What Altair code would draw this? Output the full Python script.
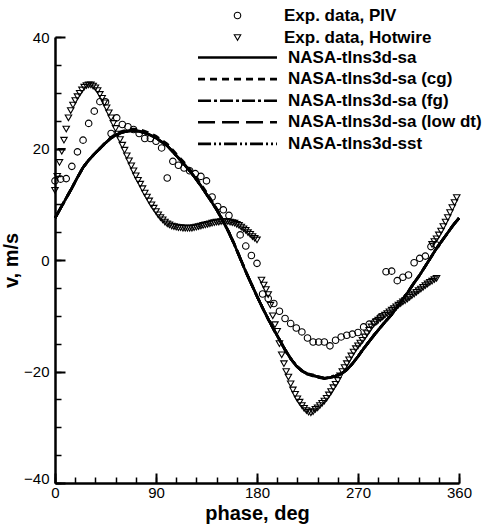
import altair as alt
import pandas as pd

# ---------------- data ----------------
piv_phase = [0, 5, 10, 15, 20, 25, 30, 35, 40, 45, 50, 55, 60, 65, 70, 75, 80, 85, 90, 95,
             100, 105, 110, 115, 120, 125, 130, 135, 140, 145, 150, 155,
             165, 170, 175, 180, 185, 190, 195, 200, 205, 210, 215, 220, 225, 230,
             235, 240, 245, 250, 255, 260, 265, 270, 275, 280, 285, 290, 295, 300,
             305, 310, 315, 320, 325, 330, 335, 340]
piv_v = [14.2, 14.5, 14.6, 16.8, 19.4, 21.5, 24.5, 26.7, 28.4, 28.4,
         22.7, 25.5, 24.3, 23.9, 23.4, 22.7, 21.8, 21.8, 21.3, 20.1,
         14.7, 17.7, 17.0, 16.5, 16.0, 15.5, 15.0, 14.2, 11.3, 9.6,
         9.0, 8.0,
         4.5, 2.5, 0.8, -0.6, -6.1, -6.9, -7.8, -9.2, -10.5, -11.4, -12.2, -12.9, -14.0, -14.7,
         -14.7, -14.7, -15.4, -14.4, -13.8, -13.5, -13.3, -13.0, -12.0, -11.5,
         -11.1, -10.2, -2.1, -2.0, -3.7, -3.1, -2.7, -0.5, 0.3, 0.7,
         2.4, 2.7]

hw1_phase = list(range(0, 181, 2))
hw1_v = [12.5, 15.0, 17.5, 19.5, 21.5, 23.5, 25.5, 26.8, 27.8, 28.6,
         29.3, 29.9, 30.5, 31.0, 31.3, 31.4, 31.4, 31.2, 30.9, 30.4,
         29.7, 29.0, 28.2, 27.3, 26.4, 25.5, 24.5, 23.6, 22.6, 21.6,
         20.6, 19.7, 18.7, 17.8, 16.9, 16.0, 15.1, 14.3, 13.6, 12.8,
         12.0, 11.3, 10.6, 9.9, 9.3, 8.7, 8.1, 7.6, 7.2, 6.8,
         6.5, 6.3, 6.1, 6.0, 5.9, 5.8, 5.8, 5.7, 5.7, 5.7,
         5.7, 5.7, 5.8, 5.9, 6.0, 6.1, 6.2, 6.3, 6.4, 6.5,
         6.6, 6.7, 6.8, 6.8, 6.9, 6.9, 6.9, 6.9, 6.8, 6.7,
         6.6, 6.4, 6.2, 5.9, 5.6, 5.3, 4.9, 4.6, 4.2, 3.9,
         3.6]
hw2_phase = list(range(184, 341, 2))
hw2_v = [-3.6, -4.5, -5.3, -6.2, -8.1, -10.0, -11.6, -12.8, -15.0, -17.0,
         -18.6, -20.0, -21.0, -22.2, -23.3, -24.1, -24.9, -25.5, -26.1, -26.6,
         -27.0, -27.3, -27.4, -27.2, -26.8, -26.5, -26.1, -25.7, -25.3, -24.8,
         -24.2, -23.6, -22.9, -22.3, -21.6, -20.8, -20.0, -19.3, -18.6, -17.9,
         -17.2, -16.5, -15.9, -15.4, -14.9, -14.4, -13.8, -13.2, -12.6, -12.0,
         -11.5, -11.1, -10.8, -10.5, -10.2, -9.9, -9.6, -9.3, -9.0, -8.7,
         -8.4, -8.1, -7.8, -7.5, -7.3, -7.0, -6.7, -6.4, -6.1, -5.8,
         -5.5, -5.2, -4.9, -4.6, -4.3, -4.0, -3.8, -3.5, -3.3]
hw3_phase = list(range(336, 359, 2))
hw3_v = [2.8, 3.3, 3.8, 4.5, 5.2, 6.0, 6.8, 7.6, 8.5, 9.4, 10.3, 11.2]

cfd_phase = list(range(0, 361, 5))
sa = [7.5, 9.3, 11.1, 12.9, 14.8, 16.6, 17.9, 19.0, 20.0, 21.0,
      21.9, 22.5, 22.9, 23.1, 23.2, 23.1, 22.8, 22.4, 21.9, 21.2,
      20.5, 19.4, 18.3, 17.2, 16.0, 14.7, 13.3, 11.8, 10.3, 8.7,
      6.9, 4.9, 2.7, 0.3, -2.1, -4.3, -6.5, -8.6, -10.6, -12.5,
      -14.3, -16.1, -17.7, -19.0, -19.9, -20.4, -20.7, -21.0, -21.2, -21.1,
      -20.8, -20.4, -19.7, -18.6, -17.3, -15.9, -14.6, -13.3, -12.1, -10.9,
      -9.8, -8.4, -7.0, -5.6, -4.1, -2.7, -1.1, 0.5, 2.1, 3.5,
      4.9, 6.3, 7.5]
sa_cg = [7.5, 9.3, 11.1, 12.9, 14.8, 16.6, 17.9, 19.0, 20.0, 21.1,
         22.0, 22.7, 23.1, 23.4, 23.5, 23.4, 23.1, 22.7, 22.2, 21.5,
         20.8, 19.7, 18.6, 17.5, 16.3, 15.0, 13.6, 12.1, 10.5, 8.9,
         7.0, 5.0, 2.8, 0.4, -2.0, -4.3, -6.5, -8.6, -10.6, -12.5,
         -14.3, -16.1, -17.7, -19.0, -19.9, -20.5, -20.8, -21.0, -21.2, -21.1,
         -20.8, -20.4, -19.7, -18.6, -17.3, -15.9, -14.6, -13.3, -12.1, -10.9,
         -9.8, -8.4, -7.0, -5.6, -4.1, -2.7, -1.1, 0.5, 2.1, 3.5,
         4.9, 6.3, 7.5]
sa_fg = [7.5, 9.3, 11.1, 12.9, 14.8, 16.6, 17.9, 19.0, 20.0, 21.0,
         21.9, 22.5, 22.9, 23.1, 23.2, 23.1, 22.8, 22.4, 21.9, 21.2,
         20.5, 19.4, 18.3, 17.2, 16.0, 14.7, 13.3, 11.8, 10.3, 8.7,
         6.9, 4.9, 2.7, 0.3, -2.1, -4.3, -6.5, -8.6, -10.6, -12.5,
         -14.3, -16.1, -17.6, -18.9, -19.9, -20.5, -20.6, -21.1, -21.3, -21.0,
         -20.7, -20.4, -19.7, -18.6, -17.3, -15.9, -14.6, -13.3, -12.1, -10.9,
         -9.8, -8.4, -7.0, -5.6, -4.1, -2.7, -1.1, 0.5, 2.1, 3.5,
         4.9, 6.3, 7.5]
sa_lowdt = [7.5, 9.3, 11.1, 12.9, 14.8, 16.6, 17.9, 19.0, 20.0, 21.0,
            21.9, 22.5, 22.9, 23.1, 23.2, 23.1, 22.8, 22.4, 21.9, 21.2,
            20.5, 19.4, 18.3, 17.2, 16.0, 14.7, 13.3, 11.8, 10.3, 8.7,
            6.9, 4.9, 2.7, 0.3, -2.1, -4.3, -6.5, -8.6, -10.6, -12.5,
            -14.3, -16.1, -17.7, -19.0, -19.8, -20.3, -20.8, -20.9, -21.2, -21.2,
            -20.8, -20.4, -19.7, -18.6, -17.3, -15.9, -14.6, -13.3, -12.1, -10.9,
            -9.8, -8.4, -7.0, -5.6, -4.1, -2.7, -1.1, 0.5, 2.1, 3.5,
            4.9, 6.3, 7.5]
sst = [7.5, 9.3, 11.1, 12.9, 14.8, 16.6, 17.9, 19.0, 20.0, 21.0,
       21.9, 22.5, 22.9, 23.1, 23.2, 23.1, 22.8, 22.4, 21.9, 21.2,
       20.5, 19.4, 18.3, 17.2, 16.0, 14.7, 13.3, 11.8, 10.3, 8.7,
       6.9, 4.9, 2.7, 0.3, -2.1, -4.3, -6.5, -8.6, -10.6, -12.5,
       -14.3, -16.1, -17.7, -19.0, -19.9, -20.4, -20.7, -21.0, -21.2, -21.1,
       -20.8, -20.4, -19.7, -18.6, -17.3, -15.9, -14.6, -13.3, -12.1, -10.9,
       -9.8, -8.4, -7.0, -5.6, -4.1, -2.7, -1.1, 0.5, 2.1, 3.5,
       4.9, 6.3, 7.5]

point_names = ["Exp. data, PIV", "Exp. data, Hotwire"]
line_names = ["NASA-tlns3d-sa", "NASA-tlns3d-sa (cg)", "NASA-tlns3d-sa (fg)",
              "NASA-tlns3d-sa (low dt)", "NASA-tlns3d-sst"]
line_dashes = [[1, 0], [7, 5], [13, 3, 3, 3], [17, 7], [13, 3, 2, 3, 2, 3]]

x_major = [0, 90, 180, 270, 360]
x_minor = list(range(0, 361, 18))
y_major = [-40, -20, 0, 20, 40]
y_minor = list(range(-40, 41, 5))

# ---------------- tables ----------------
pts = []
for p, v in zip(piv_phase, piv_v):
    pts.append({"phase": p, "v": v, "series": point_names[0]})
for ph, vv in [(hw1_phase, hw1_v), (hw2_phase, hw2_v), (hw3_phase, hw3_v)]:
    for p, v in zip(ph, vv):
        pts.append({"phase": p, "v": v, "series": point_names[1]})
pts_df = pd.DataFrame(pts)

lines = []
for name, vals in zip(line_names, [sa, sa_cg, sa_fg, sa_lowdt, sst]):
    for p, v in zip(cfd_phase, vals):
        lines.append({"phase": p, "v": v, "series": name})
lines_df = pd.DataFrame(lines)

FONT = "Liberation Sans"
xscale = alt.Scale(domain=[0, 360], nice=False, zero=False)
yscale = alt.Scale(domain=[-40, 40], nice=False, zero=False)

major_x_axis = alt.Axis(orient="bottom", values=x_major, title="phase, deg", tickSize={"expr": "-10"},
                        tickWidth=2, tickColor="black", domainColor="black", domainWidth=2.5,
                        labelPadding=12, labelFont=FONT, labelFontSize=15, labelColor="black",
                        titleFont=FONT, titleFontSize=20, titleFontWeight="bold", titleColor="black",
                        titlePadding=3, grid=False, labelFlush=False, labelOverlap=False)
major_y_axis = alt.Axis(orient="left", values=y_major, title="v, m/s", tickSize={"expr": "-10"},
                        tickWidth=2, tickColor="black", domainColor="black", domainWidth=2.5,
                        labelPadding=16, labelFont=FONT, labelFontSize=15, labelColor="black",
                        labelOffset={"condition": {"test": "datum.value == -40", "value": -5}, "value": 0},
                        titleFont=FONT, titleFontSize=20, titleFontWeight="bold", titleColor="black",
                        titlePadding=2, grid=False, labelFlush=False, labelOverlap=False)
minor_x_axis = alt.Axis(orient="bottom", values=x_minor, title=None, tickSize={"expr": "-6"},
                        tickWidth=1.5, tickColor="black", domain=False, labels=False, grid=False)
minor_y_axis = alt.Axis(orient="left", values=y_minor, title=None, tickSize={"expr": "-6"},
                        tickWidth=1.5, tickColor="black", domain=False, labels=False, grid=False)

leg_common = dict(title=None, labelFont=FONT, labelFontSize=17, labelFontWeight="bold",
                  labelColor="black", labelLimit=0, padding=0, offset=0, orient="none")

points = alt.Chart(pts_df).mark_point(filled=False, color="black", strokeWidth=1.1, size=42,
                                      opacity=1).encode(
    x=alt.X("phase:Q", scale=xscale, axis=minor_x_axis),
    y=alt.Y("v:Q", scale=yscale, axis=minor_y_axis),
    shape=alt.Shape("series:N",
                    scale=alt.Scale(domain=point_names, range=["circle", "triangle-down"]),
                    legend=alt.Legend(symbolSize=42, symbolStrokeWidth=1.1, symbolStrokeColor="black",
                                      symbolFillColor="transparent", symbolOpacity=1,
                                      legendX=174, legendY=-30, labelOffset=38, rowPadding=4,
                                      **leg_common)),
)

cfd = alt.Chart(lines_df).mark_line(color="black", strokeWidth=2.6).encode(
    x=alt.X("phase:Q", scale=xscale, axis=major_x_axis),
    y=alt.Y("v:Q", scale=yscale, axis=major_y_axis),
    strokeDash=alt.StrokeDash("series:N",
                              scale=alt.Scale(domain=line_names, range=line_dashes),
                              legend=alt.Legend(symbolType="M-5.64,0H5.64", symbolSize=196,
                                                symbolStrokeWidth=2.6, symbolStrokeColor="black",
                                                legendX=174, legendY=12, labelOffset=42, rowPadding=3.6,
                                                **leg_common)),
)

chart = alt.layer(points, cfd).resolve_axis(x="independent", y="independent").properties(
    width=404, height=446,
    padding={"left": 55, "top": 37, "right": 28, "bottom": 48},
    autosize=alt.AutoSizeParams(type="none"),
    background="white",
).configure_view(stroke=None)

chart.save("out.html", embed_options={"renderer": "svg", "actions": False})
